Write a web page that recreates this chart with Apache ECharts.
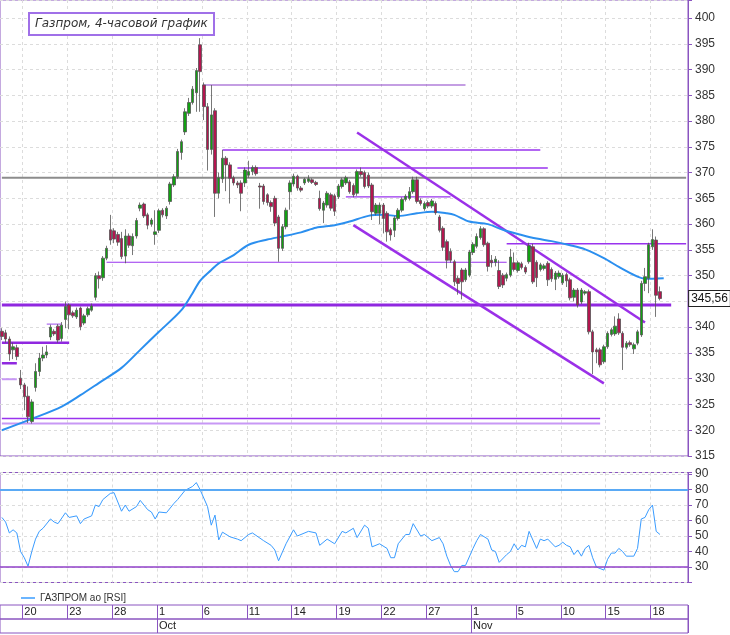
<!DOCTYPE html>
<html>
<head>
<meta charset="utf-8">
<script src="https://cdn.jsdelivr.net/npm/echarts@6/dist/echarts.min.js"></script>
<style>
  html, body { margin: 0; padding: 0; background: #fff; }
  #chart { width: 730px; height: 635px; }
</style>
</head>
<body>
<div id="chart"></div>
<script>
// 4-hour candles, one slot per candle, 4 slots per trading day
const slotCount = 184
const slots = Array.from({ length: slotCount }, (_, i) => String(i))

// date axis: first slot of the labelled days
const tickSlots = [6, 18, 30, 42, 54, 66, 78, 90, 102, 114, 126, 138, 150, 162, 174]
const tickLabels = ['20', '23', '28', '1', '6', '11', '14', '19', '22', '27', '1', '5', '10', '15', '18']
const monthSlots = [42, 126]
const monthLabels = ['Oct', 'Nov']

// [open, close, low, high]
const candles = [
  [339.2, 338.2, 337.5, 339.8], [338.9, 337.7, 337.0, 339.5], [337.7, 334.8, 333.5, 338.2], [335.6, 336.2, 333.8, 337.0],
  [336.0, 334.3, 333.6, 336.6], [330.1, 328.8, 328.0, 331.7], [328.8, 326.5, 323.9, 329.2], [326.6, 322.6, 321.4, 328.5],
  [321.7, 325.5, 321.3, 326.0], [328.3, 331.4, 327.5, 333.0], [331.4, 334.0, 330.5, 335.0], [334.0, 334.6, 333.4, 336.2],
  [334.6, 335.2, 334.0, 336.5], [338.1, 340.0, 337.5, 340.5], [339.2, 338.7, 338.3, 339.6], [340.2, 337.5, 337.0, 340.6],
  [337.8, 340.4, 337.2, 341.0], [341.5, 344.0, 339.8, 345.0], [344.3, 342.4, 339.6, 344.6], [342.8, 342.2, 341.8, 343.2],
  [342.0, 343.3, 341.6, 343.8], [343.7, 340.1, 339.4, 344.0], [340.8, 342.2, 340.4, 342.6], [342.4, 343.6, 342.0, 344.0],
  [343.3, 344.1, 343.0, 344.6], [345.8, 350.0, 345.2, 350.5], [350.0, 349.4, 347.5, 350.8], [349.6, 353.4, 349.0, 353.8],
  [353.4, 355.3, 353.0, 355.8], [358.9, 356.9, 356.0, 361.8], [358.7, 357.1, 356.3, 359.2], [358.0, 356.5, 355.8, 358.5],
  [357.2, 353.7, 353.2, 358.5], [353.8, 357.7, 352.4, 359.0], [357.7, 355.9, 355.4, 358.2], [355.8, 357.6, 354.0, 358.2],
  [357.7, 360.7, 357.2, 361.2], [363.1, 363.7, 362.5, 364.2], [363.9, 361.6, 361.2, 364.2], [361.8, 359.8, 359.0, 362.2],
  [360.0, 360.8, 359.5, 361.2], [358.0, 358.5, 356.0, 362.7], [358.8, 362.6, 358.3, 363.0], [362.7, 361.8, 361.3, 363.1],
  [361.6, 363.1, 361.0, 363.5], [364.4, 367.8, 363.8, 368.2], [367.6, 369.2, 367.2, 369.7], [369.2, 374.1, 368.8, 374.6],
  [373.9, 376.0, 372.5, 376.4], [377.9, 381.8, 377.3, 382.5], [381.5, 383.6, 381.0, 384.5], [383.6, 386.2, 383.2, 386.8],
  [385.5, 389.8, 381.8, 390.3], [394.8, 389.6, 381.8, 396.1], [387.0, 382.8, 380.2, 387.5], [382.8, 374.5, 370.4, 383.5],
  [374.5, 381.2, 373.5, 387.0], [382.0, 366.0, 361.4, 382.5], [366.0, 369.0, 365.0, 370.0], [368.8, 372.8, 368.0, 374.4],
  [372.8, 371.5, 366.4, 373.2], [371.5, 368.9, 364.0, 372.0], [369.0, 368.0, 367.5, 369.4], [368.0, 367.6, 367.0, 368.4],
  [368.0, 366.0, 362.5, 368.5], [368.0, 370.5, 367.2, 371.0], [369.5, 370.2, 369.0, 372.3], [370.2, 371.0, 369.5, 371.4],
  [371.0, 369.8, 369.4, 371.4], [367.4, 367.2, 363.0, 368.0], [367.4, 364.4, 363.8, 367.8], [365.7, 364.2, 363.6, 366.0],
  [364.2, 363.4, 362.4, 364.6], [365.0, 360.2, 359.6, 365.5], [361.4, 355.3, 352.7, 361.8], [355.3, 359.5, 354.8, 360.0],
  [359.5, 362.7, 359.0, 363.2], [366.3, 368.0, 362.8, 368.5], [367.8, 369.3, 367.3, 369.8], [369.3, 367.0, 366.5, 369.6],
  [367.0, 366.6, 366.2, 367.4], [368.0, 368.7, 367.6, 369.0], [368.3, 368.8, 368.0, 369.5], [368.6, 368.1, 367.8, 368.9],
  [368.1, 367.7, 367.4, 368.4], [365.0, 363.0, 362.6, 366.5], [362.7, 364.1, 360.2, 364.5], [363.7, 366.0, 363.2, 366.4],
  [365.7, 363.1, 362.6, 366.1], [365.5, 362.5, 361.6, 365.9], [365.3, 367.4, 364.9, 367.8], [367.3, 368.6, 366.9, 369.0],
  [368.0, 369.0, 367.6, 369.4], [368.2, 366.3, 365.9, 368.6], [367.5, 365.7, 365.2, 367.9], [366.0, 370.2, 365.5, 370.6],
  [370.2, 369.6, 369.2, 371.0], [370.0, 367.3, 366.9, 370.4], [369.5, 367.4, 367.0, 370.0], [367.6, 362.4, 360.8, 368.0],
  [362.1, 363.7, 361.7, 364.1], [362.1, 363.7, 360.0, 364.2], [363.7, 361.1, 358.2, 364.1], [362.1, 358.5, 356.6, 362.5],
  [358.9, 357.9, 356.8, 359.3], [358.8, 361.2, 357.5, 361.6], [361.1, 362.7, 360.7, 363.1], [362.7, 364.8, 362.3, 365.2],
  [364.8, 365.4, 364.4, 365.8], [365.0, 366.3, 364.6, 367.2], [366.3, 368.6, 365.9, 369.2], [368.6, 364.4, 364.0, 369.2],
  [364.6, 364.0, 363.6, 365.0], [363.0, 364.0, 362.6, 364.4], [364.2, 363.5, 363.1, 364.6], [363.5, 364.5, 363.1, 364.9],
  [364.0, 362.2, 361.8, 364.4], [361.4, 358.8, 358.4, 361.8], [359.2, 355.5, 354.8, 359.6], [356.6, 353.0, 351.4, 357.0],
  [354.7, 353.0, 352.5, 355.3], [352.7, 348.8, 348.0, 353.1], [349.5, 348.5, 346.3, 350.0], [351.1, 348.8, 345.4, 351.5],
  [349.2, 351.1, 348.8, 351.5], [350.1, 354.6, 349.7, 355.0], [354.5, 356.1, 354.0, 356.5], [355.7, 357.6, 355.3, 358.2],
  [357.4, 359.1, 357.0, 359.6], [359.1, 356.0, 355.6, 359.4], [356.3, 351.8, 350.8, 356.6], [353.0, 352.5, 351.6, 354.0],
  [352.6, 353.2, 351.8, 353.8], [351.0, 347.9, 347.4, 353.0], [350.1, 348.2, 347.6, 350.5], [349.5, 350.2, 348.9, 350.6],
  [350.1, 353.6, 349.7, 355.2], [352.5, 351.2, 350.8, 354.5], [351.0, 352.5, 350.6, 352.9], [352.3, 351.6, 351.2, 352.7],
  [351.6, 350.7, 350.3, 352.0], [352.7, 355.8, 352.3, 356.4], [355.6, 348.8, 348.4, 356.2], [352.6, 349.6, 347.8, 353.0],
  [351.2, 352.1, 350.8, 352.5], [351.4, 351.9, 351.0, 352.3], [352.4, 349.2, 348.0, 352.8], [351.2, 349.4, 348.8, 351.6],
  [349.3, 350.5, 347.2, 350.9], [349.8, 350.5, 349.4, 351.0], [348.6, 350.1, 348.2, 350.5], [350.2, 349.0, 347.8, 350.6],
  [349.2, 345.7, 345.2, 349.6], [345.8, 347.2, 345.0, 347.6], [347.2, 344.3, 343.8, 347.6], [344.9, 347.2, 344.5, 347.6],
  [346.6, 346.9, 346.2, 347.2], [346.9, 339.1, 338.6, 347.3], [339.1, 335.2, 330.9, 339.5], [335.6, 335.2, 333.0, 336.0],
  [335.6, 332.7, 332.2, 336.0], [333.3, 336.2, 332.9, 336.6], [336.2, 338.8, 335.8, 339.2], [338.6, 339.5, 338.2, 339.9],
  [338.7, 340.2, 338.3, 342.1], [341.6, 338.9, 338.5, 342.7], [338.8, 336.1, 331.7, 339.2], [336.1, 336.9, 335.7, 337.3],
  [337.0, 336.6, 336.2, 337.4], [335.8, 336.6, 334.8, 337.0], [336.9, 339.1, 336.5, 339.5], [338.5, 348.5, 338.1, 349.0],
  [348.5, 349.8, 347.0, 351.5], [349.5, 356.0, 346.6, 356.4], [355.6, 357.0, 355.0, 359.0], [356.9, 346.2, 342.0, 357.6],
  [346.9, 345.56, 345.2, 347.9]
]
const lastPrice = 345.56

// blue moving average as [slot, value]
const maPoints = [
  [0, 320.0], [8, 322.2], [16, 324.6], [21, 326.8], [26, 329.2], [32, 332.1], [37, 335.6], [42, 339.1],
  [48, 343.3], [51, 346.6], [53, 349.0], [56, 351.1], [58, 352.4], [62, 354.0], [66, 356.0], [71, 357.0],
  [75, 357.6], [80, 358.4], [84, 359.3], [89, 359.8], [93, 360.5], [98, 361.6], [102, 361.8], [106, 361.6],
  [111, 362.1], [115, 362.4], [119, 362.1], [121, 361.8], [125, 360.5], [130, 360.0], [134, 358.9], [139, 357.9],
  [143, 357.2], [147, 356.7], [152, 355.9], [156, 355.1], [161, 353.4], [165, 351.7], [170, 349.8], [172, 349.4],
  [177, 349.5]
]

// RSI as [slot, value]
const rsiPoints = [
  [0, 62], [1, 59], [2, 52], [3, 54], [4, 52], [5, 40], [6, 36], [7, 30.5], [8, 40], [9, 48], [10, 53], [11, 55],
  [13, 61], [14, 59], [15, 58], [17, 65], [18, 62], [20, 63], [21, 58], [22, 61], [24, 63], [25, 70], [26, 69],
  [27, 73.5], [29, 77.5], [30, 78], [32, 66], [33, 70], [34, 66], [36, 69], [37, 73], [39, 67], [40, 65.5],
  [41, 61], [42, 65.5], [44, 65], [46, 71], [47, 73.5], [49, 79.5], [51, 82], [52, 84.5], [53, 80], [55, 69],
  [56, 57], [57, 63.5], [58, 47.5], [59, 52.5], [61, 49.5], [63, 48], [64, 47], [66, 51], [67, 52], [70, 47],
  [72, 44], [73, 41], [74, 34], [76, 45], [78, 54], [79, 50], [82, 53], [84, 52], [85, 44], [87, 48], [89, 45],
  [91, 53], [92, 52], [94, 55], [95, 49], [97, 57], [98, 55], [99, 43], [101, 45], [103, 42], [104, 36],
  [105, 36], [106, 45], [108, 51], [109, 51], [110, 58], [112, 50], [113, 51], [115, 47], [117, 49], [118, 45],
  [119, 37], [120, 31], [121, 27], [122, 27], [123, 31], [124, 31], [126, 42], [127, 47], [128, 51], [130, 48],
  [131, 41], [132, 40], [133, 33], [135, 38], [136, 40], [137, 45], [138, 41], [139, 44], [140, 43], [141, 53],
  [143, 42], [144, 48], [145, 47], [146, 48], [148, 43], [149, 44], [150, 46], [151, 44], [152, 43], [153, 38],
  [154, 41], [155, 37], [156, 42], [157, 44], [158, 36], [159, 30], [160, 29], [161, 28], [162, 35], [163, 39],
  [164, 39], [165, 42], [166, 40], [167, 37], [169, 37], [170, 42], [171, 61], [172, 62], [173, 67], [174, 70],
  [175, 53], [176, 51]
]
const rsiLevels = [80, 30]

// horizontal levels drawn on the chart: price, first slot, last slot
const levelPrices = [387.0, 374.4, 370.9, 369.0, 365.3, 356.2, 352.6, 344.3, 337.0, 340.6, 333.0, 329.9, 322.3, 321.3]
const levelFrom = [54, 59, 63, 0, 92, 135, 28, 0, 0, 12, 0, 0, 0, 0]
const levelTo = [124, 144, 146, 183, 120, 183, 135, 179, 18, 16, 4, 4, 160, 160]

// descending channel: [slot, price] end points
const channelUpper = [[95, 377.8], [172, 340.9]]
const channelLower = [[94, 359.8], [161, 329.1]]

const PURPLE = '#9933ee'
const levelStyles = [
  { color: '#8a3fc8', width: 1.2 }, { color: PURPLE, width: 1.5 }, { color: PURPLE, width: 1.5 },
  { color: '#8c8c8c', width: 2 }, { color: PURPLE, width: 1.2 }, { color: PURPLE, width: 1.5 },
  { color: PURPLE, width: 1.2 }, { color: '#9028e0', width: 3 }, { color: '#9028e0', width: 2.5 },
  { color: '#b070f0', width: 1.2 }, { color: '#9028e0', width: 2.5 }, { color: '#c898f5', width: 2 },
  { color: PURPLE, width: 1.5 }, { color: '#c898f5', width: 2 }
]

const chart = echarts.init(document.getElementById('chart'), null, { renderer: 'canvas' })

const axisFont = { fontFamily: 'Liberation Sans Narrow, Liberation Sans, sans-serif', fontSize: 12, color: '#333' }
const gridDash = { color: '#dcdcdc', type: [3, 3], width: 1 }
const isTick = i => tickSlots.includes(i)

const levelSeries = levelPrices.map((p, k) => ({
  type: 'line',
  xAxisIndex: 0,
  yAxisIndex: 0,
  data: [[levelFrom[k], p], [levelTo[k], p]],
  symbol: 'none',
  silent: true,
  z: 3,
  lineStyle: levelStyles[k]
}))

const channelSeries = [channelUpper, channelLower].map(pts => ({
  type: 'line',
  xAxisIndex: 0,
  yAxisIndex: 0,
  data: pts,
  symbol: 'none',
  silent: true,
  z: 4,
  lineStyle: { color: '#9b30e8', width: 2.5 }
}))

chart.setOption({
  animation: false,
  backgroundColor: '#fff',
  title: {
    text: 'Газпром, 4-часовой график',
    left: 29,
    top: 13,
    padding: [5, 6, 5, 6],
    backgroundColor: '#fff',
    borderColor: '#a070e8',
    borderWidth: 2,
    textStyle: {
      fontFamily: 'DejaVu Sans, sans-serif',
      fontStyle: 'italic',
      fontWeight: 'normal',
      fontSize: 12,
      color: '#333'
    }
  },
  legend: {
    data: [{ name: 'ГАЗПРОМ ао [RSI]' }],
    left: 16,
    top: 588,
    icon: 'rect',
    itemWidth: 14,
    itemHeight: 1.5,
    itemGap: 6,
    textStyle: { fontFamily: 'Liberation Sans, sans-serif', fontSize: 10, color: '#333' }
  },
  grid: [
    { left: 0, right: 42, top: 0, height: 456, show: true, borderColor: '#8a55c0', borderWidth: 1 },
    { left: 0, right: 42, top: 472.5, height: 110, show: true, borderColor: '#8a55c0', borderWidth: 1 },
    { left: 0, right: 42, top: 605, height: 14, show: true, borderColor: '#8a55c0', borderWidth: 1 },
    { left: 0, right: 42, top: 619, height: 14, show: true, borderColor: '#8a55c0', borderWidth: 1 }
  ],
  xAxis: [
    {
      type: 'category', gridIndex: 0, data: slots, boundaryGap: true,
      axisLine: { show: false }, axisTick: { show: false }, axisLabel: { show: false },
      splitLine: { show: true, interval: isTick, lineStyle: gridDash }
    },
    {
      type: 'category', gridIndex: 1, data: slots, boundaryGap: true,
      axisLine: { show: false }, axisTick: { show: false }, axisLabel: { show: false },
      splitLine: { show: true, interval: isTick, lineStyle: gridDash }
    },
    {
      type: 'category', gridIndex: 2, data: slots, boundaryGap: true,
      axisLine: { show: false }, axisTick: { show: false },
      splitLine: { show: true, interval: isTick, lineStyle: { color: '#8a55c0', width: 1 } },
      axisLabel: {
        inside: true, interval: isTick, align: 'left', margin: 2,
        fontFamily: 'Liberation Sans Narrow, Liberation Sans, sans-serif', fontSize: 11, color: '#222',
        formatter: v => tickLabels[tickSlots.indexOf(Number(v))] || ''
      }
    },
    {
      type: 'category', gridIndex: 3, data: slots, boundaryGap: true,
      axisLine: { show: false }, axisTick: { show: false },
      splitLine: { show: true, interval: i => monthSlots.includes(i), lineStyle: { color: '#8a55c0', width: 1 } },
      axisLabel: {
        inside: true, interval: i => monthSlots.includes(i), align: 'left', margin: 2,
        fontFamily: 'Liberation Sans Narrow, Liberation Sans, sans-serif', fontSize: 11, color: '#222',
        formatter: v => monthLabels[monthSlots.indexOf(Number(v))] || ''
      }
    }
  ],
  yAxis: [
    {
      type: 'value', gridIndex: 0, position: 'right', min: 315, max: 403.5, interval: 5,
      axisLine: { show: true, lineStyle: { color: '#8a55c0' } },
      axisTick: { show: true, length: 4, lineStyle: { color: '#8a55c0' } },
      axisLabel: Object.assign({ margin: 7, formatter: v => (v % 5 === 0 && v <= 400 ? String(v) : '') }, axisFont),
      splitLine: { show: true, lineStyle: gridDash }
    },
    {
      type: 'value', gridIndex: 1, position: 'right', min: 20, max: 91, interval: 10,
      axisLine: { show: true, lineStyle: { color: '#8a55c0' } },
      axisTick: { show: true, length: 4, lineStyle: { color: '#8a55c0' } },
      axisLabel: Object.assign({ margin: 7, formatter: v => (v % 10 === 0 && v >= 30 && v <= 90 ? String(v) : '') }, axisFont),
      splitLine: { show: true, lineStyle: gridDash }
    },
    { type: 'value', gridIndex: 2, show: false },
    { type: 'value', gridIndex: 3, show: false }
  ],
  series: [
    ...levelSeries,
    ...channelSeries,
    {
      name: 'MA',
      type: 'line',
      xAxisIndex: 0,
      yAxisIndex: 0,
      data: maPoints,
      symbol: 'none',
      smooth: 0.3,
      silent: true,
      z: 5,
      lineStyle: { color: '#2b8fef', width: 2 }
    },
    {
      name: 'price',
      type: 'candlestick',
      xAxisIndex: 0,
      yAxisIndex: 0,
      data: candles,
      barWidth: 3,
      z: 6,
      itemStyle: {
        color: '#12a012',
        color0: '#b3164f',
        borderColor: '#555',
        borderColor0: '#555',
        borderWidth: 0.8
      }
    },
    {
      // last-price tag on the right axis
      name: 'last',
      type: 'line',
      xAxisIndex: 0,
      yAxisIndex: 0,
      data: [[176, lastPrice], [183, lastPrice]],
      symbol: 'none',
      silent: true,
      z: 10,
      lineStyle: { color: 'rgba(0,0,0,0)', width: 0 },
      endLabel: {
        show: true,
        distance: 3,
        formatter: () => String(lastPrice).replace('.', ','),
        backgroundColor: '#fff',
        borderColor: '#222',
        borderWidth: 1,
        padding: [2, 2, 1, 2],
        fontFamily: 'Liberation Sans Narrow, Liberation Sans, sans-serif',
        fontSize: 12,
        color: '#111'
      }
    },
    {
      name: 'ГАЗПРОМ ао [RSI]',
      type: 'line',
      xAxisIndex: 1,
      yAxisIndex: 1,
      data: rsiPoints,
      symbol: 'none',
      silent: true,
      color: '#3a9cff',
      lineStyle: { color: '#3a9cff', width: 1 },
      markLine: {
        silent: true,
        symbol: 'none',
        label: { show: false },
        data: rsiLevels.map((v, k) => ({
          yAxis: v,
          lineStyle: k === 0 ? { color: '#5aaaf5', width: 2, type: 'solid' } : { color: '#9040c8', width: 1.5, type: 'solid' }
        }))
      }
    }
  ]
})
</script>
</body>
</html>
